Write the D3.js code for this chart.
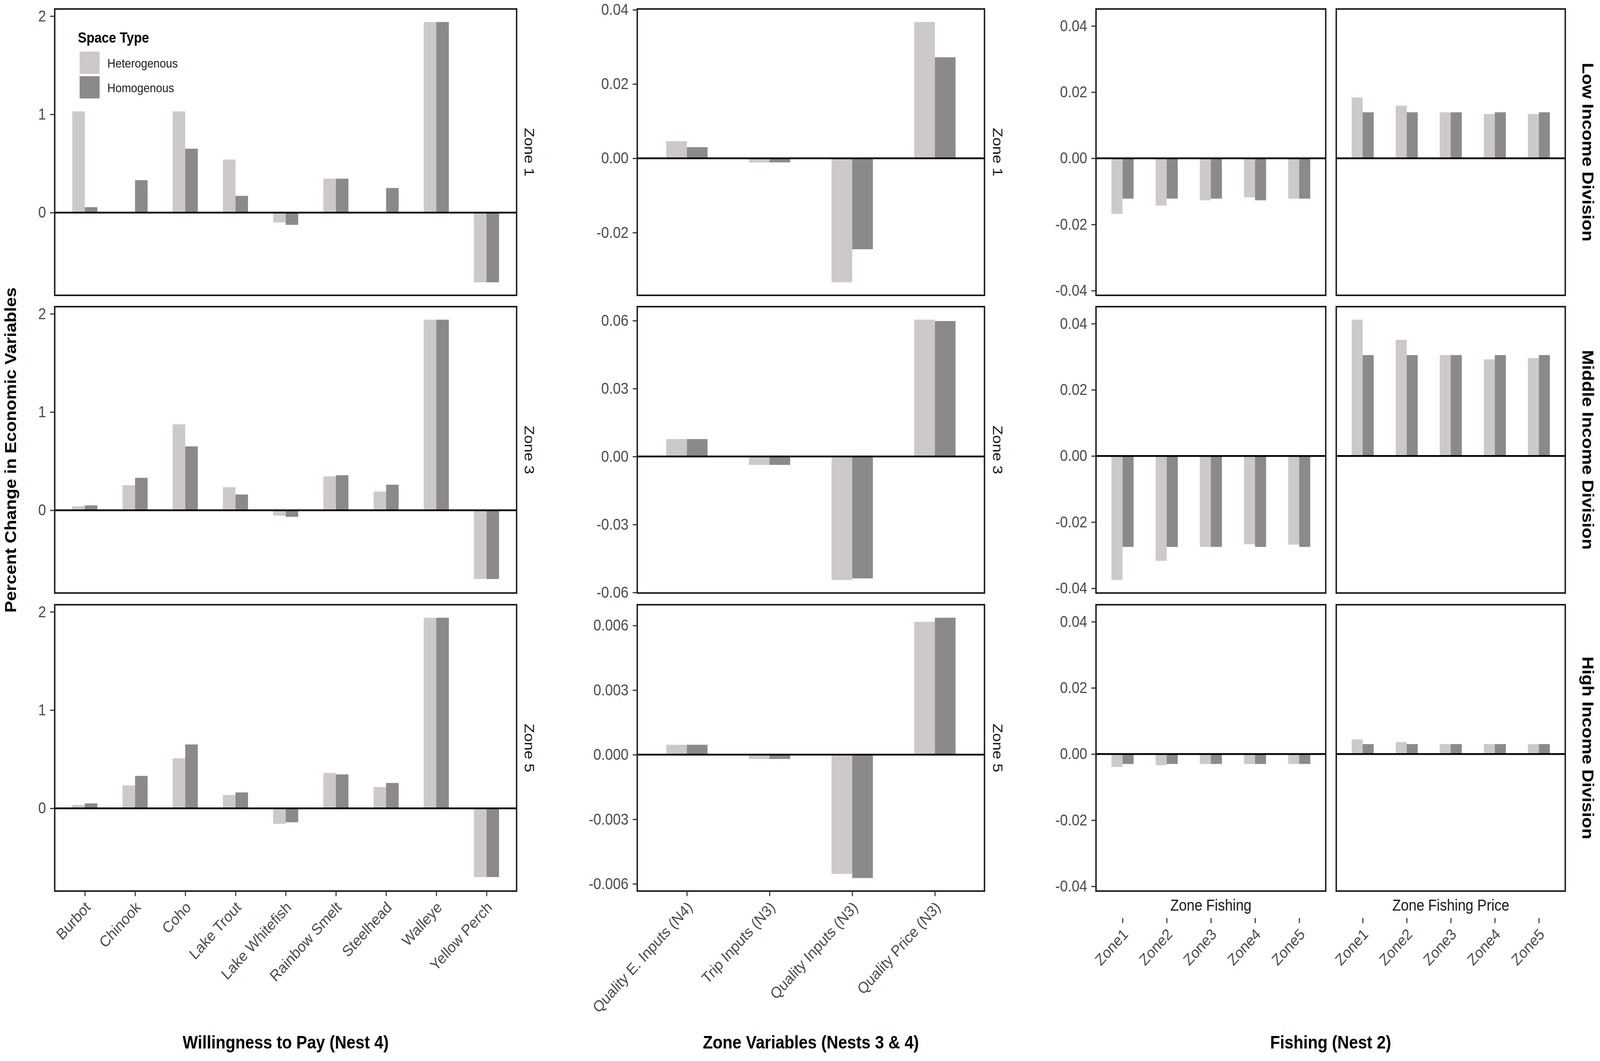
<!DOCTYPE html>
<html>
<head>
<meta charset="utf-8">
<script src="https://cdn.jsdelivr.net/npm/d3@7"></script>
<style>
  html, body { margin: 0; padding: 0; background: #fff; overflow: hidden; }
  #chart { display: block; width: 100vw; height: 100vh; }
  text { font-family: "Liberation Sans", Arial, sans-serif; }
</style>
</head>
<body>
<svg id="chart"></svg>
<script>
// data

const spaceTypes = ["Heterogenous", "Homogenous"]

// willingness to pay (Nest 4)
const species = ["Burbot", "Chinook", "Coho", "Lake Trout", "Lake Whitefish", "Rainbow Smelt", "Steelhead", "Walleye", "Yellow Perch"]
const wtpHetZone1 = [1.03, 0.004, 1.03, 0.54, -0.10, 0.345, 0.004, 1.94, -0.71]
const wtpHomZone1 = [0.055, 0.33, 0.65, 0.17, -0.125, 0.345, 0.25, 1.94, -0.71]
const wtpHetZone3 = [0.04, 0.255, 0.875, 0.235, -0.055, 0.345, 0.19, 1.94, -0.70]
const wtpHomZone3 = [0.05, 0.33, 0.65, 0.16, -0.067, 0.356, 0.26, 1.94, -0.70]
const wtpHetZone5 = [0.034, 0.233, 0.51, 0.136, -0.158, 0.36, 0.217, 1.94, -0.70]
const wtpHomZone5 = [0.05, 0.33, 0.65, 0.162, -0.142, 0.345, 0.258, 1.94, -0.70]
const wtpTicks = [0, 1, 2]

// zone variables (Nests 3 & 4)
const zoneVars = ["Quality E. Inputs (N4)", "Trip Inputs (N3)", "Quality Inputs (N3)", "Quality Price (N3)"]
const zvHetZone1 = [0.0046, -0.0011, -0.0334, 0.0367]
const zvHomZone1 = [0.0030, -0.0011, -0.0245, 0.0272]
const zvHetZone3 = [0.0077, -0.0037, -0.0545, 0.0604]
const zvHomZone3 = [0.0077, -0.0037, -0.0538, 0.0598]
const zvHetZone5 = [0.00046, -0.0002, -0.00554, 0.00617]
const zvHomZone5 = [0.00046, -0.0002, -0.00573, 0.00636]
const zvTicksZone1 = [-0.02, 0, 0.02, 0.04]
const zvTicksZone3 = [-0.06, -0.03, 0, 0.03, 0.06]
const zvTicksZone5 = [-0.006, -0.003, 0, 0.003, 0.006]

// fishing (Nest 2)
const zones = ["Zone1", "Zone2", "Zone3", "Zone4", "Zone5"]
const fishHetLow = [-0.0168, -0.0143, -0.0127, -0.0118, -0.0122]
const fishHomLow = [-0.0122, -0.0122, -0.0122, -0.0127, -0.0122]
const priceHetLow = [0.0184, 0.0159, 0.0139, 0.0134, 0.0134]
const priceHomLow = [0.0139, 0.0139, 0.0139, 0.0139, 0.0139]
const fishHetMid = [-0.0375, -0.0317, -0.0275, -0.0267, -0.0268]
const fishHomMid = [-0.0275, -0.0275, -0.0275, -0.0275, -0.0275]
const priceHetMid = [0.0412, 0.0351, 0.0305, 0.0292, 0.0296]
const priceHomMid = [0.0305, 0.0305, 0.0305, 0.0305, 0.0305]
const fishHetHigh = [-0.0039, -0.0034, -0.0030, -0.0030, -0.0030]
const fishHomHigh = [-0.0030, -0.0030, -0.0030, -0.0030, -0.0030]
const priceHetHigh = [0.0044, 0.0036, 0.0030, 0.0030, 0.0030]
const priceHomHigh = [0.0030, 0.0030, 0.0030, 0.0030, 0.0030]
const fishTicks = [-0.04, -0.02, 0, 0.02, 0.04]

const zoneRows = ["Zone 1", "Zone 3", "Zone 5"]
const incomeRows = ["Low Income Division", "Middle Income Division", "High Income Division"]
const fishPanels = ["Zone Fishing", "Zone Fishing Price"]

// layout
const W = 4562, H = 2716
const hetColor = "#CDC9C9", homColor = "#8B8989"
const rowTops = [23, 785, 1548]
const panelH = 733
const bottomY = rowTops[2] + panelH

// the figure is laid out on a 4562x2716 grid and stretched to the viewport
const svg = d3.select('#chart')
  .attr('viewBox', `0 0 ${W} ${H}`)
  .attr('preserveAspectRatio', 'none')

function padDomain(vals) {
  let lo = Math.min(0, d3.min(vals)), hi = Math.max(0, d3.max(vals))
  let pad = (hi - lo) * 0.05
  return [lo - pad, hi + pad]
}

function fmt(digits) {
  let f = d3.format('.' + digits + 'f')
  return d => f(d).replace('\u2212', '-')
}

function drawPanel(opt) {
  let x = d3.scalePoint().domain(opt.cats).range([opt.left, opt.right]).padding(0.6)
  let y = d3.scaleLinear().domain(opt.domain).range([opt.top + panelH, opt.top])
  let g = svg.append('g')
  let bw = x.step() * 0.25

  let rows = opt.cats.map((c, i) => ({ cat: c, het: opt.het[i], hom: opt.hom[i] }))

  g.selectAll('rect.het')
    .data(rows)
    .enter()
    .append('rect')
    .attr('class', 'het')
    .attr('x', d => x(d.cat) - bw)
    .attr('width', bw)
    .attr('y', d => y(Math.max(0, d.het)))
    .attr('height', d => Math.abs(y(d.het) - y(0)))
    .attr('fill', hetColor)

  g.selectAll('rect.hom')
    .data(rows)
    .enter()
    .append('rect')
    .attr('class', 'hom')
    .attr('x', d => x(d.cat))
    .attr('width', bw)
    .attr('y', d => y(Math.max(0, d.hom)))
    .attr('height', d => Math.abs(y(d.hom) - y(0)))
    .attr('fill', homColor)

  // zero line
  g.append('line')
    .attr('x1', opt.left).attr('x2', opt.right)
    .attr('y1', y(0)).attr('y2', y(0))
    .attr('stroke', '#000').attr('stroke-width', 4.5)

  // panel border
  g.append('rect')
    .attr('x', opt.left).attr('y', opt.top)
    .attr('width', opt.right - opt.left).attr('height', panelH)
    .attr('fill', 'none').attr('stroke', '#1a1a1a').attr('stroke-width', 4)

  if (opt.ticks) {
    let ax = g.append('g')
      .attr('transform', `translate(${opt.left},0)`)
      .call(d3.axisLeft(y).tickValues(opt.ticks).tickFormat(opt.format).tickSize(13).tickPadding(12))
    ax.select('.domain').remove()
    ax.selectAll('line').attr('stroke', '#333').attr('stroke-width', 3)
    ax.selectAll('text')
      .attr('font-size', 40)
      .attr('fill', '#4D4D4D')
      .style('font-family', '"Liberation Sans", Arial, sans-serif')
  }
  return x
}

function drawBottomAxis(x, yPos) {
  let ax = svg.append('g')
    .attr('transform', `translate(0,${yPos})`)
    .call(d3.axisBottom(x).tickSize(13).tickPadding(0))
  ax.select('.domain').remove()
  ax.selectAll('line').attr('stroke', '#333').attr('stroke-width', 3)
  ax.selectAll('text')
    .attr('y', null)
    .attr('dy', '0.35em')
    .attr('text-anchor', 'end')
    .attr('transform', 'translate(8,34) rotate(-45)')
    .attr('font-size', 40)
    .attr('fill', '#4D4D4D')
    .style('font-family', '"Liberation Sans", Arial, sans-serif')
}

function stripRight(x, row, label, size, weight, color) {
  let cy = rowTops[row] + panelH / 2
  svg.append('text')
    .attr('transform', `translate(${x},${cy}) rotate(90)`)
    .attr('text-anchor', 'middle')
    .attr('dominant-baseline', 'central')
    .attr('font-size', size)
    .attr('font-weight', weight)
    .attr('fill', color)
    .text(label)
}

// column 1: willingness to pay
const col1 = { left: 156, right: 1473 }
const wtpHet = [wtpHetZone1, wtpHetZone3, wtpHetZone5]
const wtpHom = [wtpHomZone1, wtpHomZone3, wtpHomZone5]
const wtpDomain = padDomain(wtpHet.flat().concat(wtpHom.flat()))
let xWtp
wtpHet.forEach((het, r) => {
  xWtp = drawPanel({
    left: col1.left, right: col1.right, top: rowTops[r],
    cats: species, het: het, hom: wtpHom[r],
    domain: wtpDomain, ticks: wtpTicks, format: d3.format('d')
  })
  stripRight(col1.right + 36, r, zoneRows[r], 40, 'normal', '#1A1A1A')
})
drawBottomAxis(xWtp, bottomY)

// column 2: zone variables (free y per row)
const col2 = { left: 1817, right: 2807 }
const zvHet = [zvHetZone1, zvHetZone3, zvHetZone5]
const zvHom = [zvHomZone1, zvHomZone3, zvHomZone5]
const zvTicks = [zvTicksZone1, zvTicksZone3, zvTicksZone5]
const zvDigits = [2, 2, 3]
let xZv
zvHet.forEach((het, r) => {
  xZv = drawPanel({
    left: col2.left, right: col2.right, top: rowTops[r],
    cats: zoneVars, het: het, hom: zvHom[r],
    domain: padDomain(het.concat(zvHom[r])), ticks: zvTicks[r], format: fmt(zvDigits[r])
  })
  stripRight(col2.right + 38, r, zoneRows[r], 40, 'normal', '#1A1A1A')
})
drawBottomAxis(xZv, bottomY)

// column 3: fishing, two facets sharing one y scale
const col3 = [{ left: 3125, right: 3780 }, { left: 3810, right: 4463 }]
const fishHet = [[fishHetLow, priceHetLow], [fishHetMid, priceHetMid], [fishHetHigh, priceHetHigh]]
const fishHom = [[fishHomLow, priceHomLow], [fishHomMid, priceHomMid], [fishHomHigh, priceHomHigh]]
const fishDomain = padDomain(fishHet.flat(2).concat(fishHom.flat(2)))
let xFish = []
fishHet.forEach((pair, r) => {
  pair.forEach((het, c) => {
    xFish[c] = drawPanel({
      left: col3[c].left, right: col3[c].right, top: rowTops[r],
      cats: zones, het: het, hom: fishHom[r][c],
      domain: fishDomain, ticks: c === 0 ? fishTicks : null, format: fmt(2)
    })
  })
  stripRight(4528, r, incomeRows[r], 46, 'bold', '#000')
})
fishPanels.forEach((label, c) => {
  svg.append('text')
    .attr('x', (col3[c].left + col3[c].right) / 2)
    .attr('y', bottomY + 36)
    .attr('text-anchor', 'middle')
    .attr('dominant-baseline', 'central')
    .attr('font-size', 40)
    .attr('fill', '#1A1A1A')
    .text(label)
  drawBottomAxis(xFish[c], bottomY + 69)
})

// axis titles
const xTitles = [
  { label: "Willingness to Pay (Nest 4)", x: (col1.left + col1.right) / 2 },
  { label: "Zone Variables (Nests 3 & 4)", x: (col2.left + col2.right) / 2 },
  { label: "Fishing (Nest 2)", x: (col3[0].left + col3[1].right) / 2 }
]
svg.selectAll('text.xtitle')
  .data(xTitles)
  .enter()
  .append('text')
  .attr('class', 'xtitle')
  .attr('x', d => d.x)
  .attr('y', 2668)
  .attr('text-anchor', 'middle')
  .attr('dominant-baseline', 'central')
  .attr('font-size', 46)
  .attr('font-weight', 'bold')
  .text(d => d.label)

svg.append('text')
  .attr('transform', `translate(30,${(rowTops[0] + bottomY) / 2}) rotate(-90)`)
  .attr('text-anchor', 'middle')
  .attr('dominant-baseline', 'central')
  .attr('font-size', 45)
  .attr('font-weight', 'bold')
  .text("Percent Change in Economic Variables")

// legend inside first panel
const legend = svg.append('g').attr('transform', 'translate(222,0)')
legend.append('text')
  .attr('x', 0).attr('y', 96)
  .attr('dominant-baseline', 'central')
  .attr('font-size', 37)
  .attr('font-weight', 'bold')
  .text("Space Type")
legend.selectAll('rect')
  .data(spaceTypes)
  .enter()
  .append('rect')
  .attr('x', 5)
  .attr('y', (d, i) => 132 + i * 63)
  .attr('width', 57)
  .attr('height', 57)
  .attr('fill', (d, i) => i === 0 ? hetColor : homColor)
legend.selectAll('text.lab')
  .data(spaceTypes)
  .enter()
  .append('text')
  .attr('class', 'lab')
  .attr('x', 84)
  .attr('y', (d, i) => 161 + i * 63)
  .attr('dominant-baseline', 'central')
  .attr('font-size', 32)
  .attr('fill', '#222')
  .text(d => d)
</script>
</body>
</html>
